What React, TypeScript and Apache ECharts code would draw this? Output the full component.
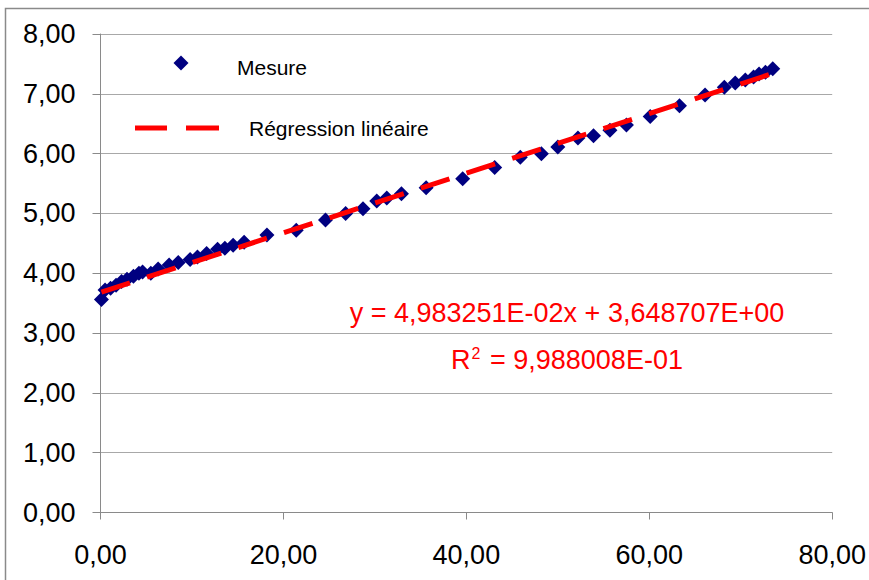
import React, { useEffect, useRef } from "react";
import * as echarts from "echarts";

const measureX = [0.1, 0.5, 1.1, 1.7, 2.3, 2.9, 3.6, 4.2, 4.6, 5.5, 6.3, 7.5, 8.5, 9.8, 10.6, 11.6, 12.8, 13.6, 14.5, 15.7, 18.2, 21.4, 24.6, 26.8, 28.7, 30.2, 31.3, 32.9, 35.6, 39.6, 43.1, 45.9, 48.2, 50.0, 52.2, 53.9, 55.7, 57.5, 60.1, 63.3, 66.1, 68.2, 69.4, 70.5, 71.4, 72.0, 72.7, 73.5];
const measureY = [3.56, 3.72, 3.75, 3.80, 3.86, 3.90, 3.95, 4.00, 4.02, 4.00, 4.07, 4.14, 4.18, 4.23, 4.27, 4.33, 4.40, 4.42, 4.47, 4.52, 4.64, 4.72, 4.89, 5.00, 5.08, 5.21, 5.26, 5.33, 5.43, 5.58, 5.77, 5.94, 6.00, 6.11, 6.26, 6.30, 6.39, 6.48, 6.62, 6.80, 6.98, 7.11, 7.18, 7.23, 7.28, 7.33, 7.36, 7.42];

const trendX = [0.1, 73.5];
const trendY = [3.685, 7.34];

const seriesNames = ["Mesure", "Régression linéaire"];
const equationText = "y = 4,983251E-02x + 3,648707E+00";
const r2Text = " = 9,988008E-01";

const xTicks = { min: 0, max: 80, interval: 20 };
const yTicks = { min: 0, max: 8, interval: 1 };

const FONT = "'Liberation Sans', Arial, sans-serif";

const fmt = (v: number) => v.toFixed(2).replace(".", ",");

export default function App() {
  const ref = useRef<HTMLDivElement>(null);
  useEffect(() => {
    if (!ref.current) return;
    const chart = echarts.init(ref.current, null, { renderer: "svg" });
    const axisColor = "#8a8a8a";
    chart.setOption({
      animation: false,
      backgroundColor: "#ffffff",
      grid: { left: 100.5, right: 36, top: 34, bottom: 67.5, containLabel: false },
      xAxis: {
        type: "value",
        min: xTicks.min,
        max: xTicks.max,
        interval: xTicks.interval,
        axisLine: { show: true, lineStyle: { color: axisColor, width: 1 } },
        axisTick: { show: true, length: 7, lineStyle: { color: axisColor } },
        splitLine: { show: false },
        axisLabel: { formatter: fmt, fontSize: 27, color: "#000", fontFamily: FONT, margin: 29 },
      },
      yAxis: {
        type: "value",
        min: yTicks.min,
        max: yTicks.max,
        interval: yTicks.interval,
        axisLine: { show: true, lineStyle: { color: axisColor, width: 1 } },
        axisTick: { show: true, length: 8, lineStyle: { color: axisColor } },
        splitLine: { show: true, lineStyle: { color: "#a8a8a8", width: 1 } },
        axisLabel: { formatter: fmt, fontSize: 27, color: "#000", fontFamily: FONT, margin: 25 },
      },
      series: [
        {
          name: seriesNames[0],
          type: "scatter",
          symbol: "diamond",
          symbolSize: 15,
          itemStyle: { color: "#000080", opacity: 1 },
          data: measureX.map((x, i) => [x, measureY[i]]),
          z: 3,
        },
        {
          name: seriesNames[1],
          type: "line",
          symbol: "none",
          lineStyle: { color: "#ff0000", width: 5, type: [30, 18], cap: "butt" },
          data: trendX.map((x, i) => [x, trendY[i]]),
          z: 4,
        },
      ],
      graphic: [
        {
          type: "rect",
          z: -10,
          silent: true,
          shape: { x: 5.5, y: 8.5, width: 1000, height: 1000 },
          style: { fill: "none", stroke: "#8a8a8a", lineWidth: 1.5 },
        },
        {
          type: "group",
          z: 5,
          children: [
            { type: "rect", shape: { x: 101, y: 42, width: 360, height: 110 }, style: { fill: "#ffffff" } },
            { type: "polygon", shape: { points: [[181, 55.5], [188.5, 63], [181, 70.5], [173.5, 63]] }, style: { fill: "#000080" } },
            { type: "text", x: 237, y: 67, style: { text: seriesNames[0], font: `21px ${FONT}`, fill: "#000", verticalAlign: "middle", align: "left" } },
            { type: "line", shape: { x1: 135, y1: 128, x2: 167, y2: 128 }, style: { stroke: "#ff0000", lineWidth: 5 } },
            { type: "line", shape: { x1: 186, y1: 128, x2: 219, y2: 128 }, style: { stroke: "#ff0000", lineWidth: 5 } },
            { type: "text", x: 249, y: 128, style: { text: seriesNames[1], font: `21px ${FONT}`, fill: "#000", verticalAlign: "middle", align: "left" } },
          ],
        },
        {
          type: "text",
          z: 10,
          x: 567,
          y: 313,
          style: { text: equationText, font: `27px ${FONT}`, fill: "#ff0000", align: "center", verticalAlign: "middle" },
        },
        {
          type: "text",
          z: 10,
          x: 567,
          y: 360,
          style: {
            text: `{a|R}{s|2}{a|${r2Text}}`,
            align: "center",
            verticalAlign: "middle",
            rich: {
              a: { fontSize: 27, fontFamily: FONT, fill: "#ff0000", color: "#ff0000", lineHeight: 30 },
              s: { fontSize: 16, fontFamily: FONT, fill: "#ff0000", color: "#ff0000", verticalAlign: "top", lineHeight: 30, padding: [0, 2, 0, 1] },
            },
          },
        },
      ],
    });
    return () => chart.dispose();
  }, []);
  return <div ref={ref} style={{ position: "absolute", left: 0, top: 0, width: 869, height: 580 }} />;
}
